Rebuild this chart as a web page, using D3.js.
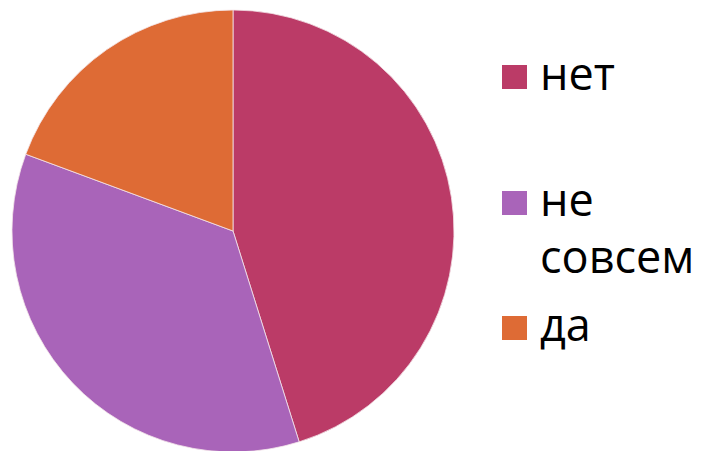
<!DOCTYPE html>
<html>
<head>
<meta charset="utf-8">
<script src="https://cdn.jsdelivr.net/npm/d3@7"></script>
<style>
  body { margin: 0; background: #fff; }
  text { font-family: "Open Sans", sans-serif; }
</style>
</head>
<body>
<div id="chart"></div>
<script>
// answers (counts)
var categories = ["нет", "не совсем", "да"];
var values = [14, 11, 6];
var colors = ["#BB3B67", "#A964B9", "#DE6B35"];

var width = 702, height = 451;
var cx = 233, cy = 231, radius = 221;

var svg = d3.select("#chart").append("svg")
    .attr("width", width)
    .attr("height", height);

var data = categories.map(function(c, i) { return {name: c, value: values[i], color: colors[i]}; });

var pie = d3.pie()
    .sort(null)
    .value(function(d) { return d.value; });

var arc = d3.arc()
    .innerRadius(0)
    .outerRadius(radius);

svg.append("g")
    .attr("transform", "translate(" + cx + "," + cy + ")")
  .selectAll("path")
    .data(pie(data))
    .enter().append("path")
    .attr("d", arc)
    .style("fill", function(d) { return d.data.color; })
    .style("stroke", "#f4e6ea")
    .style("stroke-width", 0.8);

// legend, labels wrap like the original
var legendRows = [
    {lines: ["нет"], y: 90},
    {lines: ["не", "совсем"], y: 216},
    {lines: ["да"], y: 341}
];

var legend = svg.append("g").attr("class", "legend");

legendRows.forEach(function(row, i) {
    legend.append("rect")
        .attr("x", 502)
        .attr("y", row.y - 25)
        .attr("width", 25)
        .attr("height", 24)
        .style("fill", colors[i]);

    var t = legend.append("text")
        .attr("x", 540)
        .attr("y", row.y)
        .style("font-size", "45px")
        .style("font-weight", 500)
        .style("fill", "#000");

    row.lines.forEach(function(line, j) {
        t.append("tspan")
            .attr("x", 540)
            .attr("dy", j === 0 ? 0 : 57)
            .text(line);
    });
});
</script>
</body>
</html>
